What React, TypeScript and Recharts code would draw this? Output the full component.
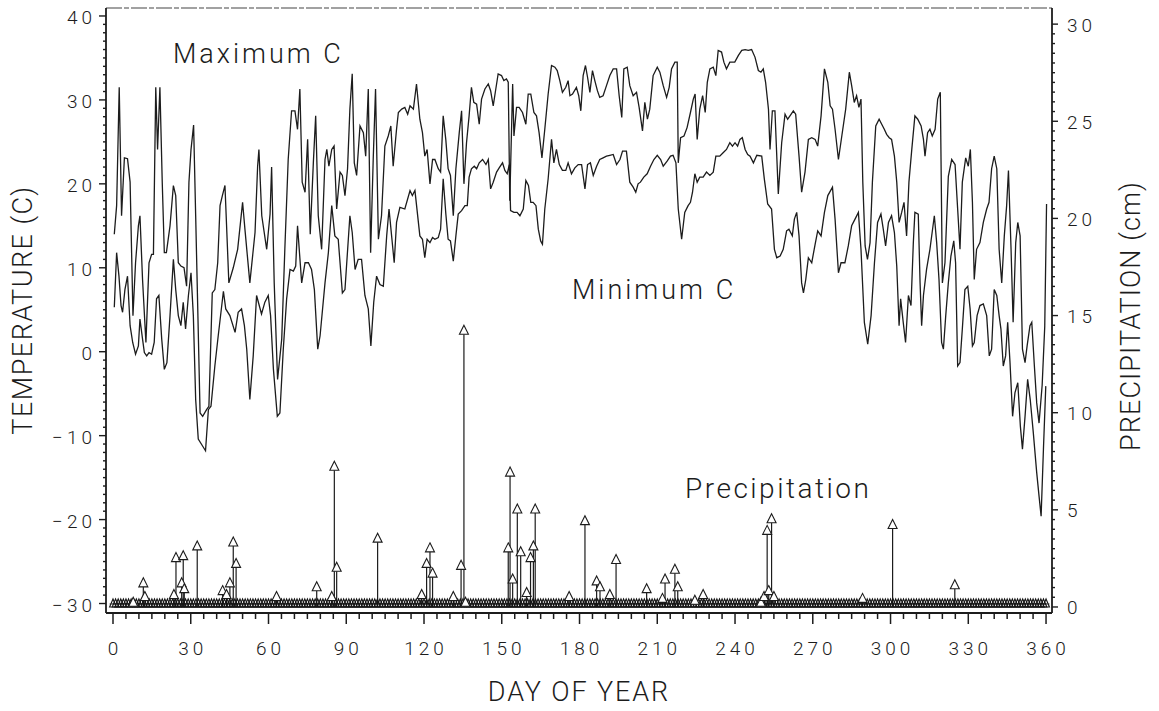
import React from 'react';
import { ComposedChart, Line, Scatter, XAxis, YAxis, ReferenceLine } from 'recharts';

const FONT = 'Roboto, "Liberation Sans", sans-serif';
const INK = '#1c1c1c';

// ---- Maximum temperature (day of year, deg C) ----
const maxTempJanApr: [number, number][] = [
  [0.5, 14.0], [1.4, 17.4], [2.4, 31.5], [3.3, 16.2], [4.4, 23.1], [5.6, 23.0], [6.6, 20.2], [7.7, 4.3],
  [8.7, 10.6], [9.8, 15.0], [10.4, 16.2], [11.4, 8.6], [12.7, 1.1], [13.9, 10.6], [14.9, 11.6], [15.6, 11.6],
  [16.5, 31.5], [17.2, 24.1], [18.1, 31.5], [19.0, 20.2], [19.8, 11.8], [20.6, 11.8], [22.0, 15.0], [23.3, 19.8],
  [24.2, 18.6], [25.2, 10.6], [26.2, 10.2], [27.4, 10.0], [28.4, 7.8], [29.3, 20.2], [30.1, 24.1], [31.1, 27.0],
  [31.9, 16.2], [33.6, -7.3], [34.6, -7.7], [36.1, -6.9], [37.0, -6.5], [38.3, 7.0], [39.3, 7.4], [40.4, 10.6],
  [41.3, 17.4], [42.2, 18.6], [43.2, 19.8], [44.7, 8.2], [46.4, 10.0], [48.1, 12.2], [50.0, 17.8], [50.9, 14.6],
  [52.8, 8.2], [54.8, 14.2], [55.8, 22.1], [56.3, 24.1], [57.4, 16.2], [59.3, 12.2], [60.6, 16.4], [61.2, 22.0],
  [62.2, 8.2], [63.5, -3.3], [65.1, 1.5], [66.3, 12.2], [67.6, 22.9], [68.9, 28.7], [70.2, 28.7], [71.2, 26.5],
  [72.1, 31.3], [73.0, 20.2], [74.1, 19.0], [75.1, 25.3], [76.1, 14.0], [77.3, 22.5], [78.2, 28.1], [79.2, 16.2],
  [80.5, 12.2], [81.8, 22.9], [82.5, 24.1], [83.3, 22.1], [84.4, 24.1], [85.3, 24.5], [86.3, 17.0], [87.6, 21.4],
  [88.5, 21.0], [89.5, 18.6], [90.5, 21.8], [91.4, 28.9], [92.3, 33.1], [93.1, 22.5], [94.0, 21.0], [95.3, 26.9],
  [96.6, 26.1], [97.5, 23.3], [98.5, 31.3], [99.4, 11.8], [100.4, 22.9], [101.3, 31.3], [102.4, 13.4], [103.6, 16.2],
  [104.9, 24.5], [106.2, 25.7], [107.2, 26.9], [108.1, 22.1], [109.4, 26.5], [110.1, 28.5], [111.4, 28.9], [112.6, 29.1],
  [113.7, 28.3], [114.6, 29.3], [115.9, 28.9], [117.1, 31.9],
];
const maxTempMayAug: [number, number][] = [
  [118.4, 27.7], [119.4, 26.1], [120.3, 23.3], [121.2, 24.1], [122.3, 20.0], [123.3, 22.9], [124.2, 22.9], [125.5, 21.8],
  [126.4, 21.4], [127.4, 28.1], [128.4, 25.3], [129.3, 21.8], [130.2, 21.0], [131.3, 16.2], [132.3, 21.8], [133.6, 26.1],
  [134.5, 28.7], [135.4, 20.0], [136.4, 24.9], [137.4, 28.1], [138.3, 31.5], [139.2, 29.7], [140.3, 29.5], [141.3, 27.1],
  [142.2, 30.1], [143.5, 31.3], [144.8, 31.9], [145.7, 31.1], [146.7, 29.3], [147.7, 31.3], [148.6, 33.1], [149.9, 32.9],
  [150.8, 32.3], [151.8, 32.5], [152.5, 32.1], [153.1, 18.0], [154.2, 31.9], [154.7, 25.7], [155.7, 29.1], [156.7, 29.1],
  [158.0, 28.5], [159.3, 27.1], [160.2, 30.7], [161.2, 30.7], [162.4, 28.5], [163.4, 28.1], [164.4, 26.1], [165.5, 23.1],
  [166.6, 26.5], [167.9, 30.7], [169.2, 34.1], [170.5, 33.9], [171.4, 33.5], [172.4, 32.3], [173.4, 30.9], [174.7, 31.5],
  [175.6, 32.3], [176.3, 30.5], [177.3, 30.7], [178.8, 31.5], [179.7, 30.5], [180.5, 28.7], [181.4, 32.9], [182.3, 34.1],
  [183.1, 32.7], [184.0, 30.9], [185.0, 33.5], [185.9, 32.3], [186.9, 31.1], [187.8, 30.3], [189.1, 30.5], [190.4, 31.7],
  [191.7, 32.9], [193.0, 33.7], [194.3, 33.7], [195.3, 30.5], [196.3, 27.9], [197.1, 33.7], [198.4, 33.9], [199.4, 31.7],
  [200.7, 30.5], [202.0, 30.9], [203.0, 29.1], [204.3, 26.3], [205.2, 29.7], [206.2, 27.7], [207.1, 28.9], [208.4, 32.9],
  [210.0, 33.9], [211.0, 33.3], [212.3, 31.7], [213.6, 30.3], [214.6, 31.5], [215.5, 33.7], [216.8, 34.5], [217.7, 34.5],
  [218.1, 22.5], [219.0, 25.5], [220.3, 25.7], [221.5, 26.7], [222.8, 28.5], [223.9, 30.1], [224.6, 30.7], [225.4, 25.3],
  [226.4, 28.9], [227.5, 30.5], [228.5, 28.5], [229.3, 32.1], [230.3, 33.7], [231.6, 33.9], [232.6, 32.9], [233.5, 35.9],
  [234.8, 35.7], [235.7, 34.5], [236.7, 33.7], [238.0, 34.5], [239.9, 34.5],
];
const maxTempSepDec: [number, number][] = [
  [241.3, 35.3], [242.6, 35.9], [243.9, 36.0], [245.1, 35.9], [246.4, 36.0], [247.7, 35.1], [249.0, 33.5], [250.0, 33.3],
  [250.9, 33.7], [251.8, 32.1], [252.9, 28.9], [253.5, 24.1], [254.4, 28.7], [255.4, 28.7], [256.7, 18.8], [258.0, 24.9],
  [259.3, 28.3], [260.3, 27.7], [261.2, 28.1], [262.5, 28.7], [263.4, 28.3], [264.7, 23.3], [265.7, 19.0], [267.0, 21.4],
  [268.3, 25.3], [269.6, 25.5], [270.9, 25.3], [271.9, 24.5], [273.2, 28.1], [274.5, 33.7], [275.8, 32.1], [276.7, 29.3],
  [277.6, 28.9], [278.6, 26.5], [279.9, 22.9], [281.2, 25.7], [282.7, 28.9], [284.1, 33.3], [285.0, 31.7], [286.0, 29.7],
  [286.9, 30.5], [287.8, 29.1], [288.6, 30.1], [289.3, 20.2], [290.2, 12.6], [291.1, 11.0], [292.1, 13.0], [293.0, 20.2],
  [294.3, 26.9], [295.6, 27.7], [296.6, 27.1], [297.6, 26.5], [298.5, 25.9], [299.5, 25.5], [300.4, 25.3], [301.5, 23.3],
  [302.4, 20.2], [303.3, 15.4], [304.3, 16.6], [305.2, 17.8], [306.2, 13.8], [307.1, 20.2], [308.2, 24.1], [309.4, 28.1],
  [310.5, 27.7], [311.8, 26.9], [312.7, 25.3], [313.3, 23.3], [314.3, 26.1], [315.2, 26.5], [316.1, 25.7], [317.2, 26.5],
  [318.2, 30.1], [319.2, 30.9], [320.0, 8.2], [321.0, 10.6], [322.3, 20.9], [323.6, 22.9], [324.9, 22.3], [325.9, 17.0],
  [326.8, 12.2], [327.7, 20.2], [329.0, 23.1], [330.0, 22.1], [330.8, 24.1], [331.6, 17.8], [332.3, 8.6], [333.2, 12.2],
  [334.5, 13.0], [335.8, 15.4], [337.1, 17.0], [338.0, 17.8], [339.0, 21.8], [340.0, 23.3], [341.0, 21.8], [341.9, 12.2],
  [342.9, 8.2], [343.9, 13.8], [344.8, 17.4], [345.5, 21.6], [346.5, 12.2], [347.3, 3.5], [348.3, 13.0], [349.1, 15.4],
  [350.0, 13.8], [350.9, 0.3], [351.9, -1.3], [352.7, 0.7], [353.8, 3.1], [354.5, 3.5], [355.5, -1.7], [356.4, -6.1],
  [357.3, -8.5], [358.5, -4.0], [359.5, 3.0], [360.2, 17.6],
];

// ---- Minimum temperature (day of year, deg C) ----
const minTempJanApr: [number, number][] = [
  [0.5, 5.3], [1.4, 11.8], [2.3, 9.0], [3.1, 5.5], [3.7, 4.7], [4.6, 7.4], [5.6, 9.0], [6.6, 3.1],
  [7.6, 1.1], [8.7, -0.3], [9.8, 0.7], [10.4, 3.9], [11.4, 1.5], [12.1, -0.1], [13.0, -0.5], [13.9, -0.1],
  [14.9, -0.3], [15.9, 1.1], [16.8, 6.3], [17.7, 6.7], [18.8, 1.5], [19.8, -2.1], [20.8, -1.3], [22.0, 4.3],
  [23.3, 11.0], [24.2, 7.4], [25.2, 4.3], [26.2, 3.1], [27.1, 5.9], [28.0, 2.7], [29.1, 6.7], [30.1, 9.4],
  [31.0, 4.3], [31.9, -5.7], [32.9, -10.4], [34.5, -11.2], [35.7, -11.8], [36.8, -6.9], [37.8, -6.5], [39.3, -1.7],
  [40.6, 1.9], [42.6, 7.2], [43.5, 5.1], [45.1, 4.3], [47.1, 2.3], [48.3, 4.7], [49.6, 5.1], [50.7, 3.1],
  [51.6, 0.3], [52.8, -5.7], [54.1, -0.5], [55.4, 6.7], [57.3, 4.5], [58.6, 5.9], [59.9, 6.7], [60.8, 4.3],
  [61.9, -2.1], [63.4, -7.7], [64.4, -7.3], [65.7, 0.3], [67.0, 6.3], [68.3, 9.8], [69.6, 9.6], [70.5, 10.2],
  [71.2, 15.0], [72.8, 8.2], [74.1, 10.6], [75.4, 10.6], [76.6, 9.8], [77.7, 7.4], [79.0, 0.3], [79.9, 1.9],
  [81.8, 8.2], [83.1, 11.8], [84.4, 17.4], [85.6, 13.8], [86.9, 13.4], [88.5, 7.0], [89.5, 7.4], [91.4, 16.2],
  [92.3, 14.2], [93.4, 9.8], [94.6, 11.0], [95.9, 11.0], [97.2, 6.7], [98.5, 5.1], [99.5, 0.7], [100.6, 5.9],
  [101.7, 9.0], [103.0, 8.0], [104.3, 7.8], [105.6, 13.8], [106.5, 17.0], [107.5, 13.8], [108.5, 10.6], [109.4, 15.4],
  [110.7, 17.2], [112.6, 17.0], [114.6, 19.2], [115.5, 18.6], [116.5, 19.2],
];
const minTempMayAug: [number, number][] = [
  [118.4, 13.8], [119.4, 13.4], [120.3, 11.2], [121.2, 13.4], [122.3, 13.0], [123.3, 13.6], [124.2, 13.4], [125.5, 13.6],
  [126.4, 14.6], [127.4, 20.6], [128.4, 16.5], [129.3, 13.4], [130.2, 13.2], [131.3, 10.8], [132.3, 13.8], [133.2, 16.4],
  [134.5, 16.8], [135.8, 17.4], [136.7, 17.4], [137.4, 20.8], [138.3, 21.8], [139.4, 22.1], [140.3, 21.8], [141.3, 22.5],
  [142.6, 22.9], [143.9, 22.3], [144.8, 22.9], [145.7, 19.4], [146.7, 20.2], [148.0, 21.4], [149.0, 21.9], [150.3, 22.5],
  [151.2, 21.6], [152.1, 21.2], [152.9, 22.3], [153.4, 16.8], [154.7, 16.6], [155.9, 16.6], [157.0, 16.2], [158.3, 17.0],
  [159.3, 20.4], [160.3, 19.8], [161.2, 17.8], [162.1, 17.8], [163.2, 17.4], [164.1, 14.6], [165.0, 13.2], [165.7, 12.8],
  [166.6, 17.0], [167.9, 20.6], [169.2, 25.3], [170.1, 22.5], [171.1, 24.1], [172.2, 22.3], [173.4, 21.6], [174.7, 21.6],
  [175.6, 22.5], [176.9, 21.2], [178.2, 21.9], [179.5, 22.3], [180.8, 22.3], [182.1, 19.4], [183.1, 22.3], [184.2, 22.5],
  [185.3, 21.0], [186.6, 22.1], [187.8, 22.9], [189.1, 23.1], [190.4, 23.3], [191.7, 23.4], [193.0, 23.5], [194.3, 22.3],
  [195.6, 22.9], [196.6, 23.9], [198.1, 23.9], [199.4, 20.2], [200.7, 19.6], [201.7, 19.0], [202.6, 20.0], [203.5, 20.2],
  [204.8, 20.8], [206.1, 21.2], [207.4, 22.1], [208.7, 22.9], [210.0, 23.4], [211.3, 22.9], [212.3, 22.1], [213.8, 22.7],
  [215.1, 23.3], [216.1, 23.4], [217.2, 22.5], [218.1, 17.0], [219.4, 13.4], [220.6, 16.6], [221.9, 17.4], [222.8, 17.8],
  [223.6, 19.0], [224.5, 21.2], [225.4, 20.2], [226.4, 20.8], [227.7, 20.8], [229.0, 21.4], [230.3, 21.0], [231.6, 21.4],
  [232.6, 23.3], [234.1, 23.3], [235.4, 23.7], [236.7, 24.1], [238.0, 24.9], [239.0, 24.5],
];
const minTempSepDec: [number, number][] = [
  [240.0, 24.9], [241.0, 24.5], [241.9, 25.3], [242.8, 25.5], [243.9, 24.1], [244.9, 23.5], [245.8, 23.3], [247.1, 22.5],
  [248.4, 23.4], [250.3, 23.3], [251.3, 20.6], [252.6, 17.6], [254.1, 17.0], [255.2, 12.2], [256.1, 11.2], [257.4, 11.4],
  [258.6, 12.2], [259.9, 14.4], [260.8, 14.6], [262.1, 13.8], [262.9, 15.8], [263.8, 16.6], [264.7, 13.8], [265.7, 8.2],
  [266.4, 7.0], [267.3, 8.6], [268.3, 11.2], [269.6, 10.6], [270.9, 12.8], [271.9, 14.4], [273.2, 13.8], [274.5, 16.6],
  [275.8, 18.6], [277.6, 19.6], [278.6, 15.8], [279.9, 9.4], [280.9, 10.6], [282.4, 10.6], [283.7, 12.6], [285.0, 15.0],
  [286.3, 15.8], [287.6, 16.6], [288.6, 12.2], [289.9, 3.5], [291.2, 0.9], [292.5, 4.3], [293.8, 10.6], [295.0, 15.4],
  [296.3, 16.4], [297.2, 14.6], [298.1, 12.6], [299.2, 15.4], [300.4, 16.2], [301.5, 14.2], [302.4, 10.2], [303.3, 3.1],
  [303.9, 6.3], [304.9, 3.5], [305.8, 1.1], [306.9, 6.7], [307.9, 5.5], [308.8, 13.0], [309.4, 16.6], [310.7, 16.4],
  [311.4, 8.2], [312.0, 3.1], [312.7, 6.7], [313.9, 9.8], [315.2, 12.2], [316.9, 16.2], [317.8, 13.0], [318.7, 8.6],
  [319.7, 1.1], [320.4, 0.3], [321.3, 4.3], [322.3, 8.2], [323.3, 11.4], [324.4, 13.2], [325.1, 10.6], [325.9, -1.7],
  [326.8, -1.3], [327.7, 2.7], [328.7, 7.4], [329.8, 7.8], [330.7, 5.1], [331.6, 0.7], [332.3, 1.1], [333.4, 4.3],
  [334.5, 5.5], [335.8, 5.7], [337.1, 4.3], [338.1, -0.5], [339.0, 0.3], [340.0, 7.4], [341.0, 6.7], [341.9, 4.3],
  [342.6, 2.7], [343.5, -1.7], [344.4, -0.5], [345.2, 3.5], [346.1, -1.3], [347.1, -7.7], [348.0, -4.9], [349.1, -3.7],
  [350.1, -8.9], [350.9, -11.6], [351.9, -7.7], [352.9, -3.3], [353.9, -5.7], [355.1, -9.7], [356.4, -14.4], [357.3, -17.2],
  [358.1, -19.6], [359.0, -11.6], [359.9, -4.1],
];

// ---- Precipitation events (day of year, cm) ----
const precipJanJun: [number, number][] = [
  [7.8, 0.5], [11.7, 1.5], [12.3, 0.8], [23.5, 0.9], [24.3, 2.8], [26.5, 1.5], [27.1, 2.9], [27.5, 1.2],
  [32.5, 3.4], [42.3, 1.1], [43.8, 0.9], [45.1, 1.5], [46.4, 3.6], [47.5, 2.5], [63.1, 0.8], [78.6, 1.3],
  [84.4, 0.8], [85.4, 7.5], [86.3, 2.3], [102.1, 3.8], [119.1, 0.9], [121.0, 2.5], [122.3, 3.3], [123.3, 2.0],
  [131.3, 0.8], [134.3, 2.4], [135.4, 14.5], [136.0, 0.5], [152.5, 3.3], [153.2, 7.2], [154.2, 1.7], [156.0, 5.3],
  [157.3, 3.1], [159.6, 1.0], [161.1, 2.8], [162.2, 3.4], [162.9, 5.3], [176.0, 0.8],
];
const precipJulDec: [number, number][] = [
  [182.1, 4.7], [186.6, 1.6], [187.9, 1.3], [191.7, 0.9], [194.1, 2.7], [205.9, 1.2], [212.0, 0.7], [213.0, 1.7],
  [216.8, 2.2], [217.9, 1.3], [224.5, 0.6], [227.7, 0.9], [250.0, 0.5], [251.2, 0.8], [252.4, 4.2], [253.0, 1.1],
  [254.1, 4.8], [255.0, 0.8], [289.2, 0.7], [300.8, 4.5], [324.8, 1.4],
];

// ---- Axis ticks ----
const dayLabels = [0, 30, 60, 90, 120, 150, 180, 210, 240, 270, 300, 330, 360];
const tempLabels = [-30, -20, -10, 0, 10, 20, 30, 40];
const precipLabels = [0, 5, 10, 15, 20, 25, 30];

const dayTicks: number[] = [];
for (let i = 0; i <= 72; i++) dayTicks.push(i * 5);
const tempTicks: number[] = [];
for (let i = -30; i <= 40; i++) tempTicks.push(i);
const precipTicks: number[] = [];
for (let i = 0; i <= 60; i++) precipTicks.push(i * 0.5);

const toRows = (arr: [number, number][]) => arr.map(([d, v]) => ({ d, v }));
const maxRows = toRows([...maxTempJanApr, ...maxTempMayAug, ...maxTempSepDec]);
const minRows = toRows([...minTempJanApr, ...minTempMayAug, ...minTempSepDec]);
const precipEvents = [...precipJanJun, ...precipJulDec];
const precipRows = toRows(precipEvents);
const dryDayRows: { d: number; v: number }[] = [];
for (let d = 0; d <= 360; d++) dryDayRows.push({ d, v: 0 });

const fmt = (v: number) => (v < 0 ? '\u2212' + Math.abs(v) : String(v));

const tickText = {
  fontFamily: FONT,
  fontWeight: 300,
  fontSize: 19,
  letterSpacing: 4,
  fill: INK,
} as const;

const DayTick = (props: any) => {
  const { x, y, payload } = props;
  const v = payload.value as number;
  const major = dayLabels.includes(v);
  return (
    <g>
      <line x1={x} x2={x} y1={y} y2={y + (major ? 11 : 6)} stroke={INK} strokeWidth={1.5} />
      {major && (
        <text x={x + 2} y={y + 35} textAnchor="middle" dominantBaseline="central" {...tickText}>
          {v}
        </text>
      )}
    </g>
  );
};

const TempTick = (props: any) => {
  const { x, y, payload } = props;
  const v = payload.value as number;
  const major = tempLabels.includes(v);
  return (
    <g>
      <line x1={x} x2={x - (major ? 7 : 3)} y1={y} y2={y} stroke={INK} strokeWidth={1.4} />
      {major && (
        <text x={x - 10} y={y + 2} textAnchor="end" dominantBaseline="central" {...tickText}>
          {fmt(v)}
        </text>
      )}
    </g>
  );
};

const PrecipTick = (props: any) => {
  const { x, y, payload } = props;
  const v = payload.value as number;
  const major = precipLabels.includes(v);
  return (
    <g>
      <line x1={x} x2={x + (major ? 6 : 3)} y1={y} y2={y} stroke={INK} strokeWidth={1.4} />
      {major && (
        <text x={x + 15} y={y + 1} textAnchor="start" dominantBaseline="central" {...tickText}>
          {v}
        </text>
      )}
    </g>
  );
};

const ArrowHead = (props: any) => {
  const { cx, cy } = props;
  if (cx == null || cy == null) return null;
  return (
    <path
      d={`M${cx},${cy} L${cx + 4.5},${cy + 9} L${cx - 4.5},${cy + 9} Z`}
      fill="#fff"
      stroke={INK}
      strokeWidth={1.1}
    />
  );
};

const DryMark = (props: any) => {
  const { cx, cy } = props;
  if (cx == null || cy == null) return null;
  return (
    <g fill="none" stroke="#151515">
      <path d={`M${cx - 3.4},${cy} L${cx},${cy - 8} L${cx + 3.4},${cy} Z`} strokeWidth={1.1} />
      <line x1={cx - 3.5} x2={cx + 3.5} y1={cy - 3} y2={cy - 3} strokeWidth={0.7} />
    </g>
  );
};

const titleText = {
  fontFamily: FONT,
  fontWeight: 300,
  fill: INK,
} as const;

export default function App() {
  return (
    <div style={{ position: 'absolute', left: 0, top: 0, width: 1159, height: 711, background: '#fff' }}>
      <ComposedChart width={1159} height={711} margin={{ top: 8, right: 0, bottom: 0, left: 0 }}>
        <XAxis
          type="number"
          dataKey="d"
          domain={[-2.7, 362.3]}
          allowDataOverflow
          ticks={dayTicks}
          interval={0}
          tick={<DayTick />}
          tickLine={false}
          tickSize={0}
          tickMargin={0}
          height={98}
          axisLine={{ stroke: INK, strokeWidth: 1.8 }}
        />
        <YAxis
          yAxisId="temp"
          orientation="left"
          type="number"
          domain={[-31.13, 40.95]}
          allowDataOverflow
          ticks={tempTicks}
          interval={0}
          width={106}
          tick={<TempTick />}
          tickLine={false}
          tickSize={0}
          tickMargin={0}
          axisLine={{ stroke: INK, strokeWidth: 1.8 }}
        />
        <YAxis
          yAxisId="precip"
          orientation="right"
          type="number"
          domain={[-0.31, 30.83]}
          allowDataOverflow
          ticks={precipTicks}
          interval={0}
          width={107}
          tick={<PrecipTick />}
          tickLine={false}
          tickSize={0}
          tickMargin={0}
          axisLine={{ stroke: INK, strokeWidth: 1.8 }}
        />
        <ReferenceLine yAxisId="temp" y={40.95} stroke="#444" strokeWidth={1.2} strokeDasharray="16 2 5 2" />
        <Line
          yAxisId="temp"
          data={maxRows}
          dataKey="v"
          type="linear"
          stroke={INK}
          strokeWidth={1.3}
          dot={false}
          isAnimationActive={false}
        />
        <Line
          yAxisId="temp"
          data={minRows}
          dataKey="v"
          type="linear"
          stroke={INK}
          strokeWidth={1.3}
          dot={false}
          isAnimationActive={false}
        />
        {precipEvents
          .filter(([, p]) => p >= 0.7)
          .map(([d, p], i) => (
            <ReferenceLine
              key={`shaft-${i}`}
              yAxisId="precip"
              segment={[
                { x: d, y: 0 },
                { x: d, y: p - 0.46 },
              ]}
              stroke={INK}
              strokeWidth={1.2}
            />
          ))}
        <Scatter
          yAxisId="precip"
          data={dryDayRows}
          dataKey="v"
          shape={<DryMark />}
          isAnimationActive={false}
        />
        <Scatter
          yAxisId="precip"
          data={precipRows}
          dataKey="v"
          shape={<ArrowHead />}
          isAnimationActive={false}
        />
      </ComposedChart>
      <svg
        width={1159}
        height={711}
        style={{ position: 'absolute', left: 0, top: 0, pointerEvents: 'none' }}
      >
        <text
          transform="translate(23,310) rotate(-90)"
          textAnchor="middle"
          dominantBaseline="central"
          fontSize={27}
          letterSpacing={1.5}
          {...titleText}
        >
          TEMPERATURE (C)
        </text>
        <text
          transform="translate(1131,316) rotate(-90)"
          textAnchor="middle"
          dominantBaseline="central"
          fontSize={27}
          letterSpacing={1.1}
          {...titleText}
        >
          PRECIPITATION (cm)
        </text>
        <text x={579} y={692} textAnchor="middle" dominantBaseline="central" fontSize={27} letterSpacing={1.9} {...titleText}>
          DAY OF YEAR
        </text>
        <text x={173} y={63} fontSize={27} letterSpacing={3} {...titleText}>
          Maximum C
        </text>
        <text x={572} y={299} fontSize={27} letterSpacing={3} {...titleText}>
          Minimum C
        </text>
        <text x={685} y={498} fontSize={28} letterSpacing={2.5} {...titleText}>
          Precipitation
        </text>
      </svg>
    </div>
  );
}
